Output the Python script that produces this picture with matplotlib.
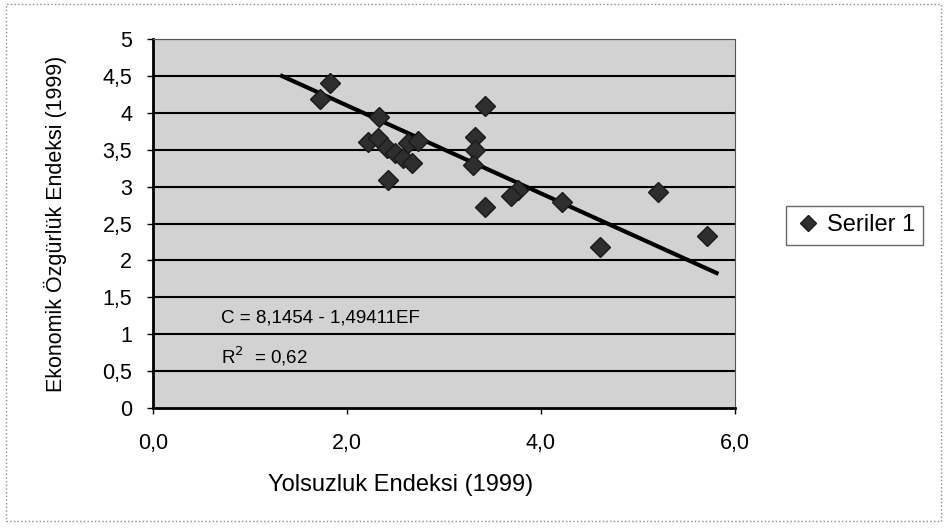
import numpy as np
import matplotlib
matplotlib.use('Agg')
import matplotlib.pyplot as plt
from matplotlib.patches import Rectangle

# Yolsuzluk endeksi (x) ve ekonomik ozgurluk endeksi (y), 1999
yolsuzluk = [1.82, 1.72, 2.33, 3.42, 2.22, 2.32, 2.41, 2.49, 2.58, 2.67,
             2.63, 2.73, 2.42, 3.32, 3.32, 3.30, 3.76, 3.69, 3.42, 4.22,
             5.21, 4.61, 5.71]
ozgurluk = [4.40, 4.19, 3.94, 4.09, 3.60, 3.66, 3.52, 3.46, 3.39, 3.32,
            3.59, 3.62, 3.09, 3.67, 3.50, 3.29, 2.95, 2.87, 2.72, 2.79,
            2.93, 2.18, 2.33]

# trend line as drawn in the chart (start / end x)
trend_x = [1.33, 5.81]
trend_y = [4.50, 1.83]

x_ticks = [0, 2, 4, 6]
y_ticks = [0, 0.5, 1, 1.5, 2, 2.5, 3, 3.5, 4, 4.5, 5]

plt.rcParams['font.family'] = ['Liberation Sans', 'DejaVu Sans']

fig = plt.figure(figsize=(9.47, 5.29), dpi=100)
ax = fig.add_axes([0.1616, 0.2287, 0.6145, 0.6973])

ax.set_facecolor('#d2d2d2')
for y in y_ticks[1:]:
    ax.axhline(y, color='black', lw=1.5, zorder=1)

ax.plot(trend_x, trend_y, color='black', lw=3, zorder=2)
ax.plot(yolsuzluk, ozgurluk, linestyle='none', marker='D', markersize=10.5,
        color='#2e2e2e', markeredgecolor='#1a1a1a', label='Seriler 1', zorder=3)

ax.set_xlim(0, 6)
ax.set_ylim(0, 5)
ax.set_xticks(x_ticks)
ax.set_xticklabels([f'{v:.1f}'.replace('.', ',') for v in x_ticks])
ax.set_yticks(y_ticks)
ax.set_yticklabels([('%g' % v).replace('.', ',') for v in y_ticks])
ax.tick_params(axis='both', labelsize=15.5, length=4, width=1, direction='out')
ax.tick_params(axis='x', pad=14)
ax.tick_params(axis='y', pad=11)

for side in ['left', 'bottom']:
    ax.spines[side].set_linewidth(2)
ax.spines['top'].set_linewidth(0.8)
ax.spines['right'].set_linewidth(0.8)
ax.spines['top'].set_color('#555555')
ax.spines['right'].set_color('#555555')

ax.set_xlabel('Yolsuzluk Endeksi (1999)', fontsize=17)
ax.xaxis.set_label_coords(0.426, -0.18)
ax.set_ylabel('Ekonomik Özgürlük Endeksi (1999)', fontsize=15.5)
ax.yaxis.set_label_coords(-0.148, 0.5)

ax.text(0.70, 1.22, 'C = 8,1454 - 1,49411EF', fontsize=13.5,
        va='center', zorder=4)
ax.text(0.70, 0.70, 'R$^2$  = 0,62', fontsize=13.5,
        va='center', zorder=4)

leg = ax.legend(loc='center left', bbox_to_anchor=(1.087, 0.495), fontsize=17,
                frameon=True, fancybox=False, edgecolor='#444444',
                handletextpad=0.2, borderpad=0.35, borderaxespad=0,
                handlelength=1.2, markerscale=0.8)
leg.get_frame().set_linewidth(1)

fig.patches.append(Rectangle((0.006, 0.015), 0.988, 0.978, transform=fig.transFigure,
                             fill=False, edgecolor='#888888', lw=1, linestyle=':'))

fig.savefig('out.png', dpi=100)
